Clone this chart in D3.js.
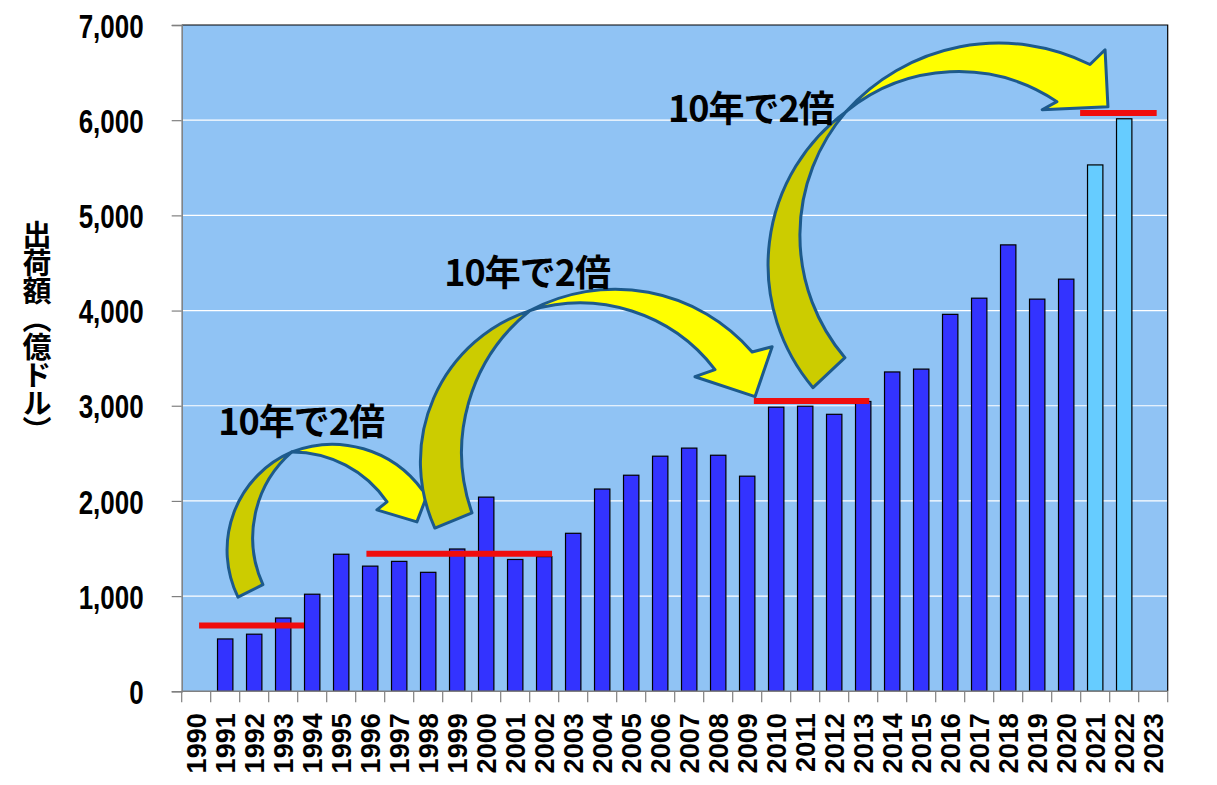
<!DOCTYPE html>
<html>
<head>
<meta charset="utf-8">
<script src="https://cdn.jsdelivr.net/npm/d3@7"></script>
<style>
  body { margin: 0; background: #fff; }
  svg { display: block; }
</style>
</head>
<body>
<script>
/* Data */
var years = ["1990","1991","1992","1993","1994","1995","1996","1997","1998","1999",
             "2000","2001","2002","2003","2004","2005","2006","2007","2008","2009",
             "2010","2011","2012","2013","2014","2015","2016","2017","2018","2019",
             "2020","2021","2022","2023"];
var values = [null, 550, 600, 770, 1020, 1440, 1315, 1365, 1250, 1495,
              2040, 1385, 1415, 1660, 2125, 2270, 2470, 2555, 2480, 2260,
              2985, 2995, 2910, 3045, 3355, 3385, 3960, 4130, 4690, 4120,
              4330, 5530, 6015, null];
var lightYears = ["2021", "2022"];          // drawn in light blue
var yTicks = [0, 1000, 2000, 3000, 4000, 5000, 6000, 7000];
var yTitle = "出荷額（億ドル）";

/* "doubling" level markers, in category units and values */
var levelStart = [0.6, 6.37, 19.73, 30.98];
var levelEnd   = [4.22, 12.77, 23.71, 33.62];
var levelValue = [690, 1445, 3050, 6075];

/* notes */
var noteText = "10年で2倍";
var noteU = [4.12, 11.91, 19.63];
var noteV = [2690, 4257, 5985];

/* curved arrows, points as [category units, value]
   each edge is a circular arc through three points */
var arrows = [
  { tailA: [1.94, 990], tailOuterMid: [1.67, 1750],
    tailB: [2.80, 1120], tailInnerMid: [2.53, 1855],
    cross: [3.80, 2515],
    headOuterMid: [5.98, 2570], headOuterEnd: [8.29, 2116],
    head: [[8.56, 2137], [8.11, 1780], [6.73, 1906], [7.08, 1990]],
    headInnerMid: [5.63, 2380] },
  { tailA: [8.73, 1715], tailOuterMid: [9.01, 3270],
    tailB: [10.01, 1875], tailInnerMid: [10.04, 3170],
    cross: [12.01, 4000],
    headOuterMid: [15.36, 4220], headOuterEnd: [19.67, 3565],
    head: [[20.36, 3620], [19.77, 3095], [17.70, 3305], [18.39, 3380]],
    headInnerMid: [15.36, 4010] },
  { tailA: [21.77, 3190], tailOuterMid: [20.22, 4500],
    tailB: [22.87, 3505], tailInnerMid: [21.32, 4850],
    cross: [22.91, 6090],
    headOuterMid: [27.70, 6805], headOuterEnd: [31.32, 6585],
    head: [[31.84, 6740], [31.94, 6140], [29.67, 6110], [30.18, 6195]],
    headInnerMid: [26.84, 6510] }
];

/* Size and plot area */
var width = 1217, height = 785;
var plotLeft = 181.7, plotRight = 1167.7, plotTop = 25, plotBottom = 691.3;

var svg = d3.select("body").append("svg")
    .attr("width", width)
    .attr("height", height);

/* scales */
var x = d3.scaleBand()
    .domain(years)
    .range([plotLeft, plotRight])
    .paddingInner(0.47)
    .paddingOuter(0.235);

var ax = d3.scaleLinear()            // category units for annotations
    .domain([0, years.length])
    .range([plotLeft, plotRight]);

var y = d3.scaleLinear()
    .domain([0, 7000])
    .range([plotBottom, plotTop]);

/* plot background */
svg.append("rect")
    .attr("x", plotLeft).attr("y", plotTop)
    .attr("width", plotRight - plotLeft).attr("height", plotBottom - plotTop)
    .attr("fill", "#90c3f4");

/* gridlines */
svg.append("g").selectAll("line")
    .data(yTicks.slice(1, -1))
    .enter().append("line")
    .attr("x1", plotLeft).attr("x2", plotRight)
    .attr("y1", function(d) { return y(d); })
    .attr("y2", function(d) { return y(d); })
    .attr("stroke", "#fff").attr("stroke-width", 1.2);

/* border top and right */
svg.append("path")
    .attr("d", "M" + plotLeft + "," + plotTop + "H" + plotRight + "V" + plotBottom)
    .attr("fill", "none").attr("stroke", "#000").attr("stroke-width", 1.2);

/* bars */
svg.append("g").selectAll("rect")
    .data(years.map(function(yr, i) { return { year: yr, value: values[i] }; })
               .filter(function(d) { return d.value != null; }))
    .enter().append("rect")
    .attr("x", function(d) { return x(d.year); })
    .attr("width", x.bandwidth())
    .attr("y", function(d) { return y(d.value); })
    .attr("height", function(d) { return y(0) - y(d.value); })
    .attr("fill", function(d) { return lightYears.indexOf(d.year) >= 0 ? "#66ccff" : "#3333ff"; })
    .attr("stroke", "#000")
    .attr("stroke-width", 1.2);

/* y axis */
var yAxis = svg.append("g")
    .attr("transform", "translate(" + plotLeft + ",0)")
    .call(d3.axisLeft(y).tickValues(yTicks).tickSize(10).tickFormat(d3.format(",")));
yAxis.select(".domain").attr("stroke", "#808080").attr("stroke-width", 1.5);
yAxis.selectAll(".tick line").attr("stroke", "#808080").attr("stroke-width", 1.2);
yAxis.selectAll(".tick text")
    .attr("x", null)
    .attr("transform", "translate(-38,0) scale(1,1.29)")
    .attr("dy", "0.36em")
    .attr("fill", "#000")
    .style("font-family", "'Liberation Sans', Arial, sans-serif")
    .style("font-weight", "bold")
    .style("font-size", "26px");

/* x axis: ticks between categories */
svg.append("line")
    .attr("x1", plotLeft).attr("x2", plotRight)
    .attr("y1", plotBottom).attr("y2", plotBottom)
    .attr("stroke", "#808080").attr("stroke-width", 1.5);

svg.append("g").selectAll("line")
    .data(d3.range(years.length + 1))
    .enter().append("line")
    .attr("x1", function(d) { return ax(d); })
    .attr("x2", function(d) { return ax(d); })
    .attr("y1", plotBottom).attr("y2", plotBottom + 11)
    .attr("stroke", "#808080").attr("stroke-width", 1.2);

svg.append("g").selectAll("text")
    .data(years)
    .enter().append("text")
    .attr("transform", function(d) {
        return "translate(" + (x(d) + x.bandwidth() / 2) + "," + (plotBottom + 22) + ") rotate(-90)";
    })
    .attr("dy", "0.36em")
    .attr("text-anchor", "end")
    .style("font-family", "'Liberation Sans', Arial, sans-serif")
    .style("font-weight", "bold")
    .style("font-size", "27px")
    .text(function(d) { return d; });

/* y title, vertical */
svg.append("text")
    .attr("x", 37).attr("y", 220)
    .style("writing-mode", "vertical-rl")
    .style("font-family", "'Noto Sans CJK JP', sans-serif")
    .style("font-weight", "bold")
    .style("font-size", "29px")
    .style("letter-spacing", "-1px")
    .text(yTitle);

/* level markers */
svg.append("g").selectAll("line")
    .data(levelValue)
    .enter().append("line")
    .attr("x1", function(d, i) { return ax(levelStart[i]); })
    .attr("x2", function(d, i) { return ax(levelEnd[i]); })
    .attr("y1", function(d) { return y(d); })
    .attr("y2", function(d) { return y(d); })
    .attr("stroke", "#f00d0d")
    .attr("stroke-width", 6);

/* curved arrows */
function px(p) { return [ax(p[0]), y(p[1])]; }

// arc command from p0 through p1 to p2 (pixel points)
function arc3(p0, p1, p2) {
    var ax1 = p0[0], ay1 = p0[1], bx = p1[0], by = p1[1], cx = p2[0], cy = p2[1];
    var d = 2 * (ax1 * (by - cy) + bx * (cy - ay1) + cx * (ay1 - by));
    var a2 = ax1 * ax1 + ay1 * ay1, b2 = bx * bx + by * by, c2 = cx * cx + cy * cy;
    var ux = (a2 * (by - cy) + b2 * (cy - ay1) + c2 * (ay1 - by)) / d;
    var uy = (a2 * (cx - bx) + b2 * (ax1 - cx) + c2 * (bx - ax1)) / d;
    var r = Math.hypot(ax1 - ux, ay1 - uy);
    var cross = (bx - ax1) * (cy - by) - (by - ay1) * (cx - bx);
    var sweep = cross > 0 ? 1 : 0;
    // large arc when the centre is on the same side of the chord as p1
    var side = function(qx, qy) { return (cx - ax1) * (qy - ay1) - (cy - ay1) * (qx - ax1); };
    var large = side(ux, uy) * side(bx, by) > 0 ? 1 : 0;
    return "A" + r + "," + r + " 0 " + large + "," + sweep + " " + cx + "," + cy;
}

var ag = svg.append("g");
arrows.forEach(function(a) {
    var A = px(a.tailA), B = px(a.tailB), P = px(a.cross);
    var tail = "M" + A + arc3(A, px(a.tailOuterMid), P) +
               arc3(P, px(a.tailInnerMid), B) + "Z";
    var E = px(a.headOuterEnd), base = px(a.head[3]);
    var head = "M" + P + arc3(P, px(a.headOuterMid), E) +
               a.head.map(function(p) { return "L" + px(p); }).join("") +
               arc3(base, px(a.headInnerMid), P) + "Z";
    ag.append("path").attr("d", tail)
        .attr("fill", "#cccc00").attr("stroke", "#1d5a8c")
        .attr("stroke-width", 3).attr("stroke-linejoin", "round");
    ag.append("path").attr("d", head)
        .attr("fill", "#ffff00").attr("stroke", "#1d5a8c")
        .attr("stroke-width", 3).attr("stroke-linejoin", "round");
});

/* notes */
svg.append("g").selectAll("text")
    .data(noteU)
    .enter().append("text")
    .attr("x", function(d) { return ax(d); })
    .attr("y", function(d, i) { return y(noteV[i]); })
    .attr("text-anchor", "middle")
    .style("font-family", "'Noto Sans CJK JP', sans-serif")
    .style("font-weight", "bold")
    .style("font-size", "36px")
    .style("letter-spacing", "-1px")
    .text(noteText);
</script>
</body>
</html>
